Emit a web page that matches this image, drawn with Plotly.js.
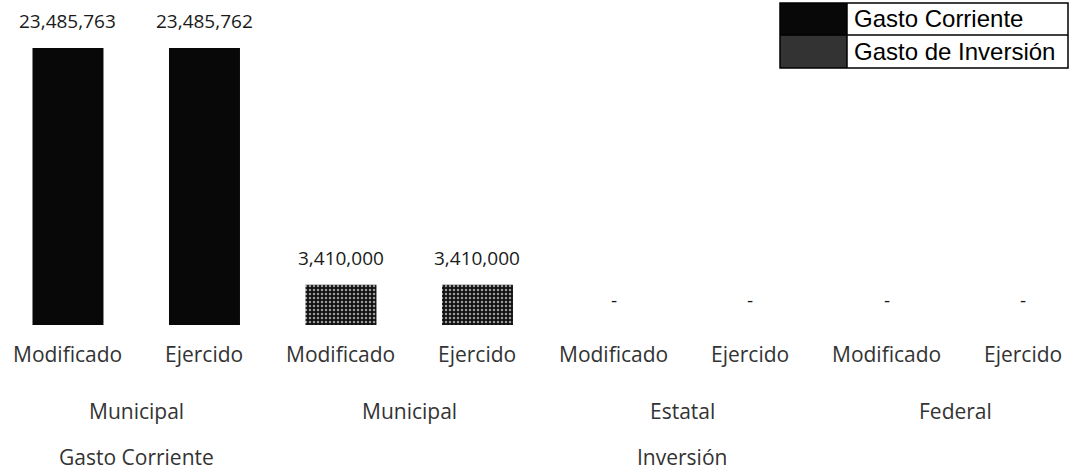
<!DOCTYPE html>
<html>
<head>
<meta charset="utf-8">
<script src="https://cdn.plot.ly/plotly-3.0.1.min.js"></script>
<style>html,body{margin:0;padding:0;background:#fff;}#chart{width:1074px;height:472px;}</style>
</head>
<body>
<div id="chart"></div>
<script>
// ---- data ----
const categories = ['Modificado', 'Ejercido', 'Modificado', 'Ejercido', 'Modificado', 'Ejercido', 'Modificado', 'Ejercido'];
const level2Labels = ['Municipal', 'Municipal', 'Estatal', 'Federal'];
const level2Sizes = [2, 2, 2, 2];
const level3Labels = ['Gasto Corriente', 'Inversión'];
const level3Sizes = [2, 6];
const seriesNames = ['Gasto Corriente', 'Gasto de Inversión'];
const gastoCorrienteX = [0, 1];
const gastoCorriente = [23485763, 23485762];
const gastoInversionX = [2, 3, 4, 5, 6, 7];
const gastoInversion = [3410000, 3410000, 0, 0, 0, 0];

// ---- layout constants ----
const W = 1074, H = 472, PLOT_H = 325;
const FONT = 'Open Sans, Lato, sans-serif';
const px = v => v / W;
const py = v => (PLOT_H - v) / PLOT_H;
const fmt = v => v === 0 ? '-' : v.toLocaleString('en-US');

const traces = [
  {
    type: 'bar', name: seriesNames[0], x: gastoCorrienteX, y: gastoCorriente,
    width: 0.52, marker: {color: '#080808', line: {width: 0}}, hoverinfo: 'skip'
  },
  {
    type: 'bar', name: seriesNames[1], x: gastoInversionX, y: gastoInversion,
    width: 0.52,
    marker: {color: '#141414', line: {width: 0},
      pattern: {shape: '.', bgcolor: '#111111', fgcolor: '#9a9a9a', size: 4, solidity: 0.3, fillmode: 'replace'}},
    hoverinfo: 'skip'
  }
];

const annotations = [];
function valueLabels(xs, ys) {
  xs.forEach((x, i) => {
    const v = ys[i];
    annotations.push({
      xref: 'x', yref: 'y', x: x, y: v, text: fmt(v), showarrow: false,
      yanchor: 'middle', yshift: v === 0 ? 25 : 27,
      font: {family: FONT, size: 19, color: '#1a1a1a'}
    });
  });
}
valueLabels(gastoCorrienteX, gastoCorriente);
valueLabels(gastoInversionX, gastoInversion);

categories.forEach((c, i) => annotations.push({
  xref: 'x', yref: 'paper', x: i, y: 0, text: c, showarrow: false,
  yanchor: 'middle', yshift: -29, font: {family: FONT, size: 21, color: '#333'}
}));
function spanLabels(labels, sizes, shift) {
  let start = 0;
  labels.forEach((lab, i) => {
    const center = start + (sizes[i] - 1) / 2;
    annotations.push({
      xref: 'x', yref: 'paper', x: center, y: 0, text: lab, showarrow: false,
      yanchor: 'middle', yshift: shift, font: {family: FONT, size: 21, color: '#333'}
    });
    start += sizes[i];
  });
}
spanLabels(level2Labels, level2Sizes, -86);
spanLabels(level3Labels, level3Sizes, -132);

// custom legend
const shapes = [
  {type: 'rect', xref: 'paper', yref: 'paper', x0: px(780), x1: px(847), y0: py(3), y1: py(35), fillcolor: '#080808', line: {width: 0}},
  {type: 'rect', xref: 'paper', yref: 'paper', x0: px(780), x1: px(847), y0: py(35), y1: py(68), fillcolor: '#333333', line: {width: 0}},
  {type: 'rect', xref: 'paper', yref: 'paper', x0: px(780), x1: px(1068), y0: py(3), y1: py(68), line: {color: '#000', width: 1.5}},
  {type: 'line', xref: 'paper', yref: 'paper', x0: px(780), x1: px(1068), y0: py(35), y1: py(35), line: {color: '#000', width: 1.5}},
  {type: 'line', xref: 'paper', yref: 'paper', x0: px(847), x1: px(847), y0: py(3), y1: py(68), line: {color: '#000', width: 1.5}}
];
seriesNames.forEach((n, i) => annotations.push({
  xref: 'paper', yref: 'paper', x: px(852), y: py(19 + i * 32.5), text: n, showarrow: false,
  xanchor: 'left', yanchor: 'middle', font: {family: 'Liberation Sans, Arial, sans-serif', size: 24, color: '#000'}
}));

const layout = {
  width: W, height: H,
  margin: {l: 0, r: 0, t: 0, b: H - PLOT_H, pad: 0},
  paper_bgcolor: '#fff', plot_bgcolor: '#fff',
  showlegend: false, bargap: 0.48,
  xaxis: {range: [-0.498, 7.37], visible: false, fixedrange: true},
  yaxis: {range: [0, 27555000], visible: false, fixedrange: true},
  annotations: annotations, shapes: shapes
};

Plotly.newPlot('chart', traces, layout, {staticPlot: true, displayModeBar: false});
</script>
</body>
</html>
